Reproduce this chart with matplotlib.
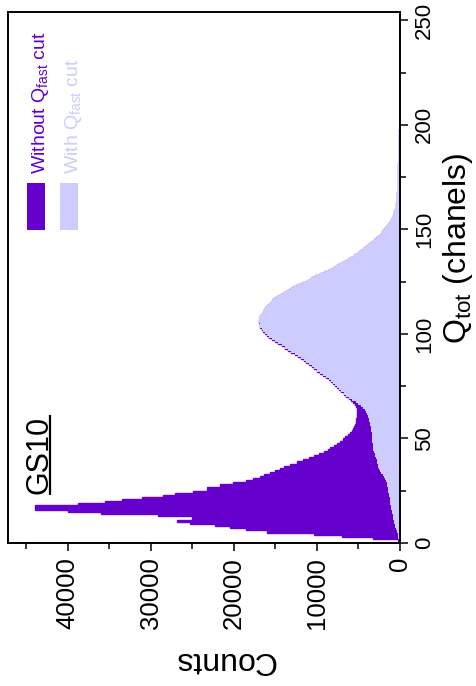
import matplotlib.pyplot as plt
import matplotlib.patches as mpatches
from matplotlib.ticker import MultipleLocator
import numpy as np

plt.rcParams['font.family'] = ['Liberation Sans', 'DejaVu Sans']
plt.rcParams['mathtext.default'] = 'regular'

#******************************* Datos *****************************************

# Bordes de canal de Q_tot (un canal por bin)
q_edges = np.arange(0, 251)

# Cuentas sin corte en Q_fast
counts_without_cut = [
    50, 300, 3250, 7000, 10400, 16000, 18500, 20500, 22300, 25300,
    26900, 25100, 25100, 29100, 36000, 40000, 44000, 43900, 38750, 35500,
    33500, 31100, 28500, 27100, 24900, 23300, 23300, 21700, 20100, 18500,
    17700, 16900, 16400, 15700, 15000, 14500, 14000, 13200, 12400, 11700,
    11000, 10400, 9800, 9200, 8700, 8400, 8000, 7600, 7200, 6900,
    6600, 6300, 6000, 5800, 5650, 5500, 5420, 5350, 5300, 5250,
    5220, 5200, 5150, 5150, 5200, 5300, 5450, 5700, 5900, 6150,
    6450, 6750, 7050, 7300, 7600, 7850, 8100, 8350, 8600, 8900,
    9250, 9600, 9950, 10300, 10650, 11000, 11300, 11600, 11950, 12300,
    12700, 13100, 13450, 13850, 14250, 14650, 15050, 15400, 15750, 16050,
    16300, 16450, 16650, 16800, 16900, 16950, 16950, 16900, 16800, 16650,
    16500, 16400, 16270, 16000, 15750, 15460, 15260, 14900, 14500, 14060,
    13650, 13250, 12850, 12350, 11800, 11240, 10700, 10200, 9640, 9100,
    8600, 8030, 7650, 7300, 6900, 6420, 6000, 5500, 5100, 4820,
    4500, 4200, 3850, 3610, 3300, 3000, 2750, 2410, 2200, 2000,
    1800, 1600, 1410, 1250, 1100, 980, 870, 760, 680, 600,
    540, 490, 450, 410, 380, 350, 330, 320, 300, 290,
    280, 270, 260, 250, 240, 230, 220, 215, 210, 205,
    200, 190, 180, 170, 160, 150, 140, 130, 120, 110,
    100, 95, 90, 85, 80, 75, 70, 65, 60, 55,
    50, 48, 46, 44, 42, 40, 38, 36, 34, 32,
    30, 30, 28, 28, 26, 26, 24, 24, 22, 22,
    20, 20, 20, 18, 18, 18, 16, 16, 16, 15,
    15, 15, 14, 14, 14, 13, 13, 13, 12, 12,
    12, 11, 11, 11, 10, 10, 10, 10, 10, 10,
]

# Cuentas con corte en Q_fast
counts_with_cut = [
    0, 100, 200, 250, 300, 400, 500, 550, 650, 700,
    780, 820, 860, 900, 950, 1000, 1050, 1100, 1150, 1180,
    1200, 1250, 1300, 1350, 1400, 1450, 1500, 1550, 1600, 1700,
    1800, 1950, 2100, 2250, 2400, 2500, 2600, 2700, 2780, 2820,
    2900, 2980, 3050, 3120, 3200, 3250, 3280, 3300, 3330, 3360,
    3380, 3400, 3420, 3450, 3500, 3550, 3600, 3650, 3700, 3750,
    3810, 3950, 4100, 4220, 4450, 4700, 5000, 5350, 5750, 6100,
    6450, 6750, 7050, 7300, 7600, 7850, 8100, 8350, 8600, 8900,
    9250, 9600, 9950, 10300, 10650, 11000, 11300, 11600, 11950, 12300,
    12700, 13100, 13450, 13850, 14250, 14650, 15050, 15400, 15750, 16050,
    16300, 16450, 16650, 16800, 16900, 16950, 16950, 16900, 16800, 16650,
    16500, 16400, 16270, 16000, 15750, 15460, 15260, 14900, 14500, 14060,
    13650, 13250, 12850, 12350, 11800, 11240, 10700, 10200, 9640, 9100,
    8600, 8030, 7650, 7300, 6900, 6420, 6000, 5500, 5100, 4820,
    4500, 4200, 3850, 3610, 3300, 3000, 2750, 2410, 2200, 2000,
    1800, 1600, 1410, 1250, 1100, 980, 870, 760, 680, 600,
    540, 490, 450, 410, 380, 350, 330, 320, 300, 290,
    280, 270, 260, 250, 240, 230, 220, 215, 210, 205,
    200, 190, 180, 170, 160, 150, 140, 130, 120, 110,
    100, 95, 90, 85, 80, 75, 70, 65, 60, 55,
    50, 48, 46, 44, 42, 40, 38, 36, 34, 32,
    30, 30, 28, 28, 26, 26, 24, 24, 22, 22,
    20, 20, 20, 18, 18, 18, 16, 16, 16, 15,
    15, 15, 14, 14, 14, 13, 13, 13, 12, 12,
    12, 11, 11, 11, 10, 10, 10, 10, 10, 10,
]

legend_labels = [r'Without Q$_{fast}$ cut', r'With Q$_{fast}$ cut']
detector_name = 'GS10'
counts_ticks = [0, 10000, 20000, 30000, 40000]
q_ticks = [0, 50, 100, 150, 200, 250]

PURPLE = '#6600CC'
LAVENDER = '#CCCCFF'

#******************************* Figura (girada 90 grados) *****************************************

fig = plt.figure(figsize=(4.77, 6.86), dpi=100)
ax = fig.add_axes([0.0168, 0.2085, 0.8218, 0.774])

# Q_tot en vertical, cuentas en horizontal creciendo hacia la izquierda
ax.stairs(counts_without_cut, q_edges, orientation='horizontal', baseline=0,
          fill=True, facecolor=PURPLE, edgecolor=PURPLE, linewidth=1.0)
ax.stairs(counts_with_cut, q_edges, orientation='horizontal', baseline=0,
          fill=True, facecolor=LAVENDER, edgecolor='none', linewidth=0)

ax.set_xlim(47200, 0)
ax.set_ylim(0, 254)

ax.set_xticks(counts_ticks)
ax.set_yticks(q_ticks)
ax.xaxis.set_minor_locator(MultipleLocator(5000))
ax.yaxis.set_minor_locator(MultipleLocator(25))

ax.yaxis.tick_right()
ax.tick_params(axis='both', which='major', direction='out', length=6, width=1.1)
ax.tick_params(axis='both', which='minor', direction='out', length=4, width=1.1)
ax.tick_params(axis='x', which='both', top=False, bottom=True, labelrotation=90,
               labelsize=18.5, pad=4)
ax.tick_params(axis='y', which='both', left=False, right=True, labelleft=False,
               labelright=True, labelrotation=90, labelsize=16, pad=4)
for lbl in ax.get_yticklabels():
    lbl.set_va('center')

for sp in ax.spines.values():
    sp.set_linewidth(1.4)

# Etiquetas de ejes
ax.text(0.5536, -0.22, 'Counts', transform=ax.transAxes, rotation=180,
        ha='center', va='center', fontsize=23)
ax.text(1.148, 0.556, r'Q$_{tot}$ (chanels)', transform=ax.transAxes, rotation=90,
        ha='center', va='center', fontsize=23)

# Nombre del detector subrayado
ax.text(0.0995, 0.0923, detector_name, transform=ax.transAxes, rotation=90,
        rotation_mode='anchor', ha='left', va='baseline', fontsize=22)
ax.plot([0.108, 0.108], [0.0904, 0.241], transform=ax.transAxes, color='black',
        linewidth=1.6, solid_capstyle='butt')

# Leyenda manual (girada)
legend_x = [0.0485, 0.1327]
legend_colors = [PURPLE, LAVENDER]
for x0, col, lab in zip(legend_x, legend_colors, legend_labels):
    ax.add_patch(mpatches.Rectangle((x0, 0.5895), 0.0459, 0.0885, transform=ax.transAxes,
                                    facecolor=col, edgecolor='none'))
    ax.text(x0 + 0.045, 0.695, lab, transform=ax.transAxes, rotation=90,
            rotation_mode='anchor', ha='left', va='baseline', fontsize=14, color=col)

fig.savefig('out.png', dpi=100)
